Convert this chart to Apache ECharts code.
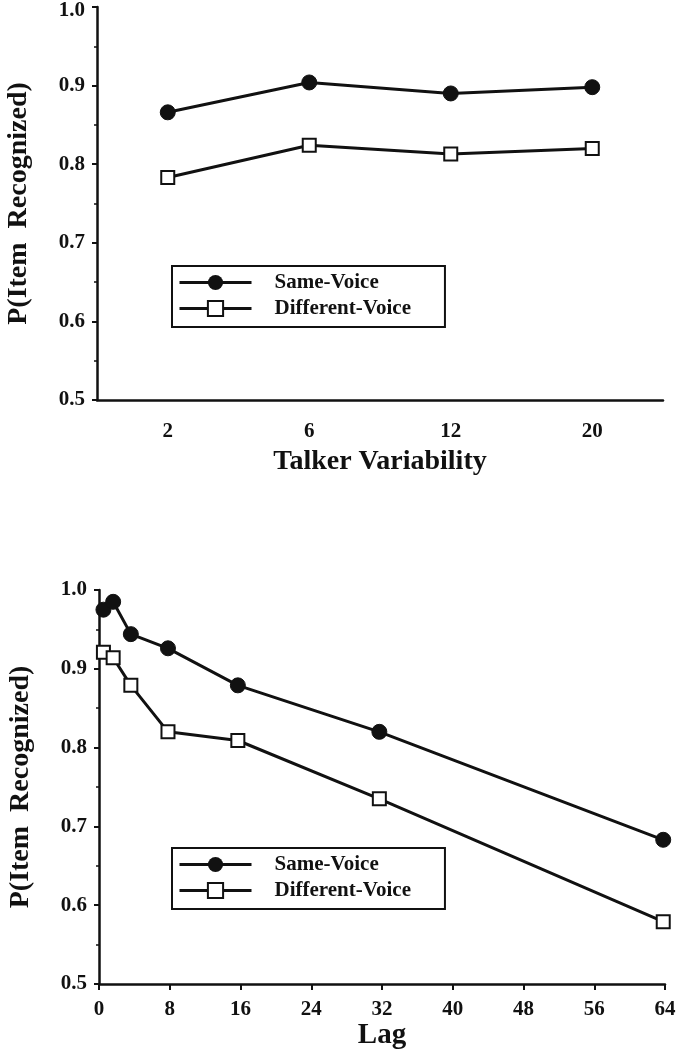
<!DOCTYPE html>
<html>
<head>
<meta charset="utf-8" />
<style>
  html, body { margin: 0; padding: 0; background: #fff; }
  #chart { width: 677px; height: 1050px; }
</style>
<script src="https://cdn.jsdelivr.net/npm/echarts@6/dist/echarts.min.js"></script>
</head>
<body>
<div id="chart"></div>
<script>
// top panel: talker variability
const talkers = ["2", "6", "12", "20"]
const sameTalker = [0.866, 0.904, 0.890, 0.898]
const diffTalker = [0.783, 0.824, 0.813, 0.820]

// bottom panel: lag
const lags = [0.5, 1.6, 3.6, 7.8, 15.7, 31.7, 63.8]
const sameLag = [0.975, 0.985, 0.944, 0.926, 0.879, 0.820, 0.683]
const diffLag = [0.921, 0.914, 0.879, 0.820, 0.809, 0.735, 0.579]

const seriesNames = ["Same-Voice", "Different-Voice"]

const ink = "#111"
const font = "Liberation Serif"

const yAxisBase = (gridIndex, nudgeTop) => ({
  type: "value",
  gridIndex,
  min: 0.5,
  max: 1.0,
  interval: 0.1,
  name: "P(Item  Recognized)",
  nameLocation: "middle",
  nameGap: 64,
  nameTextStyle: { color: ink, fontFamily: font, fontWeight: "bold", fontSize: 28 },
  axisLine: { show: true, lineStyle: { color: ink, width: 2.5 } },
  axisTick: { show: true, length: 5, lineStyle: { color: ink, width: 2 } },
  minorTick: { show: true, splitNumber: 2, length: 3, lineStyle: { color: ink, width: 1.5 } },
  splitLine: { show: false },
  axisLabel: {
    color: ink,
    fontFamily: font,
    fontWeight: "bold",
    fontSize: 21,
    margin: 12,
    // top label of the upper panel sits a little lower, like in the scan
    formatter: v => (nudgeTop && v === 1 ? "{hi|1.0}" : v.toFixed(1)),
    rich: {
      hi: { color: ink, fontFamily: font, fontWeight: "bold", fontSize: 21, padding: [8, 0, 0, 0] }
    }
  }
})

const legendBase = top => ({
  data: seriesNames.map(name => ({ name })),
  orient: "vertical",
  left: 172,
  top,
  padding: [6, 34, 8, 6],
  borderColor: ink,
  borderWidth: 2,
  itemWidth: 72,
  itemHeight: 19,
  itemGap: 5,
  lineStyle: { width: 3 },
  textStyle: {
    color: ink,
    fontFamily: font,
    fontWeight: "bold",
    fontSize: 21,
    lineHeight: 19,
    padding: [0, 0, 0, 18]
  }
})

const lineStyle = { color: ink, width: 3 }
const sameMarker = { symbol: "circle", symbolSize: 15, itemStyle: { color: ink, borderColor: ink } }
const diffMarker = { symbol: "rect", symbolSize: 13, itemStyle: { color: "#fff", borderColor: ink, borderWidth: 2 } }

const chart = echarts.init(document.getElementById("chart"))

chart.setOption({
  backgroundColor: "#fff",
  animation: false,
  grid: [
    { left: 97, right: 14, top: 7, height: 393, outerBoundsMode: "none" },
    { left: 99, right: 12, top: 590, height: 394, outerBoundsMode: "none" }
  ],
  legend: [legendBase(266), legendBase(848)],
  xAxis: [
    {
      type: "category",
      gridIndex: 0,
      data: talkers,
      boundaryGap: true,
      name: "Talker Variability",
      nameLocation: "middle",
      nameGap: 48,
      nameTextStyle: { color: ink, fontFamily: font, fontWeight: "bold", fontSize: 28 },
      axisLine: { lineStyle: { color: ink, width: 2.5 } },
      axisTick: { alignWithLabel: true, length: 6, lineStyle: { color: ink, width: 2 } },
      axisLabel: { color: ink, fontFamily: font, fontWeight: "bold", fontSize: 21, margin: 21 },
      splitLine: { show: false }
    },
    {
      type: "value",
      gridIndex: 1,
      min: 0,
      max: 64,
      interval: 8,
      name: "Lag",
      nameLocation: "middle",
      nameGap: 34,
      nameTextStyle: { color: ink, fontFamily: font, fontWeight: "bold", fontSize: 29 },
      axisLine: { lineStyle: { color: ink, width: 2.5 } },
      axisTick: { length: 6, lineStyle: { color: ink, width: 2 } },
      axisLabel: { color: ink, fontFamily: font, fontWeight: "bold", fontSize: 21, margin: 15 },
      splitLine: { show: false }
    }
  ],
  yAxis: [yAxisBase(0, true), yAxisBase(1, false)],
  series: [
    {
      name: seriesNames[0],
      type: "line",
      xAxisIndex: 0,
      yAxisIndex: 0,
      data: sameTalker,
      lineStyle,
      ...sameMarker
    },
    {
      name: seriesNames[1],
      type: "line",
      xAxisIndex: 0,
      yAxisIndex: 0,
      data: diffTalker,
      lineStyle,
      ...diffMarker
    },
    {
      name: seriesNames[0],
      type: "line",
      xAxisIndex: 1,
      yAxisIndex: 1,
      data: lags.map((x, i) => [x, sameLag[i]]),
      lineStyle,
      ...sameMarker
    },
    {
      name: seriesNames[1],
      type: "line",
      xAxisIndex: 1,
      yAxisIndex: 1,
      data: lags.map((x, i) => [x, diffLag[i]]),
      lineStyle,
      ...diffMarker
    }
  ]
})
</script>
</body>
</html>
